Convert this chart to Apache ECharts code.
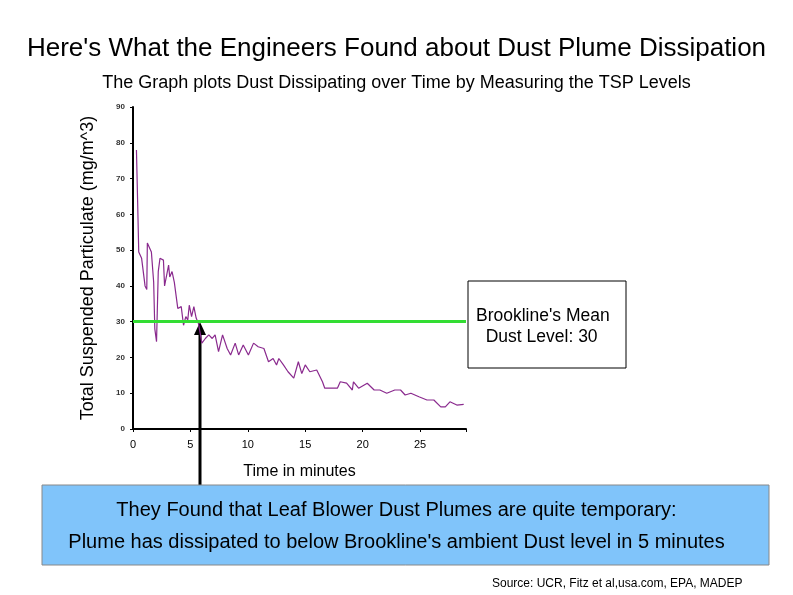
<!DOCTYPE html>
<html><head><meta charset="utf-8">
<script src="https://cdn.jsdelivr.net/npm/echarts@6/dist/echarts.min.js"></script>
<style>body{margin:0}#c{width:793px;height:595px}</style></head>
<body><div id="c"></div>
<script>
const times = [0.3,0.4,0.5,0.75,1.05,1.2,1.25,1.4,1.6,1.8,1.9,2.05,2.2,2.35,2.65,2.75,2.9,3.1,3.2,3.4,3.6,3.9,4.2,4.4,4.6,4.77,4.9,5.1,5.3,5.5,5.7,6.0,6.3,6.6,6.9,7.15,7.45,7.8,8.2,8.5,8.9,9.2,9.6,10.05,10.5,10.9,11.4,11.8,12.2,12.5,12.7,13.1,13.5,14.0,14.4,14.7,15.0,15.4,16.0,16.5,16.7,17.3,17.8,18.05,18.6,19.1,19.2,19.65,20.4,21.0,21.5,22.1,22.8,23.3,23.7,24.2,24.9,25.6,26.2,26.8,27.2,27.6,28.2,28.8];
const tsp = [78,64,49.5,47.7,40,39,52,52,49.5,41,28,24.4,44,47.7,47.2,40,40,45.8,42.5,44,41,33.7,34.2,29,31.4,30.5,34.6,31.4,34.2,31,29.5,24,25.3,26.3,25.3,26.3,21.6,26.3,22.5,20.7,24,20.7,23.5,20.7,24,23,22.5,18.8,19.7,17.9,19.7,17.9,16,14.2,18.8,15.5,17.9,16,16.5,13.2,11.4,11.4,11.4,13.2,12.8,10.9,13.2,11.4,12.8,10.9,10.9,10,10.9,10.9,9.5,10,9,8.1,8.1,6.2,6.2,7.6,6.7,6.9];
const meanLevel = 30;
const chart = echarts.init(document.getElementById('c'));
const F = 'Liberation Sans, Arial, sans-serif';
chart.setOption({
  animation:false,
  backgroundColor:'#fff',
  title:[
    {text:"Here's What the Engineers Found about Dust Plume Dissipation",left:'center',top:31,textStyle:{fontFamily:F,fontSize:26,fontWeight:'normal',color:'#000'}},
    {text:"The Graph plots Dust Dissipating over Time by Measuring the TSP Levels",left:'center',top:69,textStyle:{fontFamily:F,fontSize:18,fontWeight:'normal',color:'#000'}}
  ],
  grid:{left:133,top:107,width:333,height:322},
  xAxis:{type:'value',min:0,max:29,interval:5,
    name:'Time in minutes',nameLocation:'middle',nameGap:35,nameTextStyle:{fontFamily:F,fontSize:16,color:'#000'},
    axisLine:{lineStyle:{color:'#000',width:2}},axisTick:{show:true,length:3,lineStyle:{color:'#000'}},splitLine:{show:false},
    axisLabel:{fontFamily:F,fontSize:11,color:'#000',margin:10,formatter:v=>v%5===0?v:''}},
  yAxis:{type:'value',min:0,max:90,interval:10,
    name:'Total Suspended Particulate (mg/m^3)',nameLocation:'middle',nameGap:36,nameTextStyle:{fontFamily:F,fontSize:18,color:'#000'},
    axisLine:{show:true,lineStyle:{color:'#000',width:2}},axisTick:{show:true,length:3,lineStyle:{color:'#000'}},splitLine:{show:false},
    axisLabel:{fontFamily:F,fontSize:8,fontWeight:'bold',color:'#333',margin:8}},
  series:[{type:'line',data:times.map((t,i)=>[t,tsp[i]]),showSymbol:false,lineStyle:{color:'#8a2a8e',width:1.2},
    markLine:{silent:true,symbol:'none',label:{show:false},lineStyle:{color:'#33dd33',width:3,type:'solid'},data:[{yAxis:meanLevel}]}}],
  graphic:[
    {type:'rect',shape:{x:468,y:281,width:158,height:87},style:{fill:'#fff',stroke:'#000',lineWidth:1}},
    {type:'text',left:476,top:306,style:{text:"Brookline's Mean\n  Dust Level: 30",font:'17.5px '+F,fill:'#000',lineHeight:21}},
    {type:'line',shape:{x1:200,y1:490,x2:200,y2:333},style:{stroke:'#000',lineWidth:3}},
    {type:'polygon',shape:{points:[[194,335],[206,335],[200,322]]},style:{fill:'#000'}},
    {type:'rect',shape:{x:42,y:485,width:727,height:80},style:{fill:'#80c4fa',stroke:'#888',lineWidth:1}},
    {type:'text',left:'center',top:500,style:{text:"They Found that Leaf Blower Dust Plumes are quite temporary:",font:'20px '+F,fill:'#000'}},
    {type:'text',left:'center',top:532,style:{text:"Plume has dissipated to below Brookline's ambient Dust level in 5 minutes",font:'20px '+F,fill:'#000'}},
    {type:'text',left:492,top:578,style:{text:"Source: UCR, Fitz et al,usa.com, EPA, MADEP",font:'12px '+F,fill:'#000'}}
  ]
});
</script></body></html>
